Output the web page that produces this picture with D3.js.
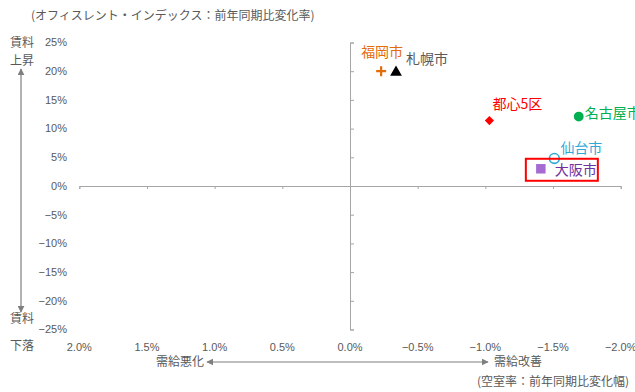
<!DOCTYPE html>
<html>
<head>
<meta charset="utf-8">
<script src="https://cdn.jsdelivr.net/npm/d3@7"></script>
<style>
  html, body { margin: 0; padding: 0; background: #fff; }
  svg { display: block; }
  text { font-family: "Noto Sans CJK JP", "Liberation Sans", sans-serif; }
  .num { font-family: "Liberation Sans", Arial, sans-serif; }
</style>
</head>
<body>
<svg id="chart" width="635" height="392"></svg>
<script>
// Cities plotted: vacancy-rate change (x, % points) vs. rent index change (y, %)
const cities   = ["福岡市", "札幌市", "都心5区", "名古屋市", "仙台市", "大阪市"];
const vacancy  = [-0.23, -0.34, -1.03, -1.69, -1.51, -1.41];
const rent     = [20.0, 19.8, 11.4, 12.1, 4.8, 3.0];
const shapes   = ["plus", "triangle", "diamond", "circle", "ring", "square"];
const markColors  = ["#E46C0A", "#000000", "#FF0000", "#00B050", "#2FA8D8", "#A66BD3"];
const labelColors = ["#E46C0A", "#595959", "#FF0000", "#00B050", "#2FA8D8", "#7030A0"];
const xTicks = [2.0, 1.5, 1.0, 0.5, 0.0, -0.5, -1.0, -1.5, -2.0];
const yTicks = [25, 20, 15, 10, 5, 0, -5, -10, -15, -20, -25];

const svg = d3.select("#chart");
const x = d3.scaleLinear().domain([2.0, -2.0]).range([79.3, 620.7]);
const y = d3.scaleLinear().domain([25, -25]).range([42.5, 329.5]);
const grey = "#A6A6A6", textGrey = "#595959";
const minus = s => s.replace("-", "\u2212");

// Axes crossing at the origin
const xAxis = d3.axisBottom(x).tickValues(xTicks).tickSize(3).tickFormat("");
svg.append("g").attr("transform", `translate(0,${y(0)})`).call(xAxis)
  .call(g => g.selectAll("path,line").attr("stroke", grey));
const yAxis = d3.axisRight(y).tickValues(yTicks).tickSize(4).tickSizeOuter(4).tickFormat("");
svg.append("g").attr("transform", `translate(${x(0)},0)`).call(yAxis)
  .call(g => g.selectAll("path,line").attr("stroke", grey));

// Tick labels: y on the left margin, x along the bottom
svg.append("g").selectAll("text").data(yTicks).join("text")
  .attr("class", "num").attr("x", 67).attr("y", d => y(d)).attr("dy", "0.35em")
  .attr("text-anchor", "end").attr("font-size", 11).attr("fill", textGrey)
  .text(d => minus(d + "%"));
svg.append("g").selectAll("text").data(xTicks).join("text")
  .attr("class", "num").attr("x", d => x(d)).attr("y", 347).attr("dy", "0.35em")
  .attr("text-anchor", "middle").attr("font-size", 11).attr("fill", textGrey)
  .text(d => minus(d3.format(".1f")(d) + "%"));

// Arrowheads
const defs = svg.append("defs");
defs.append("marker").attr("id", "arr").attr("viewBox", "0 0 10 10")
  .attr("refX", 9).attr("refY", 5).attr("markerWidth", 7).attr("markerHeight", 7)
  .attr("orient", "auto-start-reverse").attr("markerUnits", "userSpaceOnUse")
  .append("path").attr("d", "M0,0 L10,5 L0,10 Z").attr("fill", "#7F7F7F");

// Rent direction arrow (left)
svg.append("line").attr("x1", 21).attr("x2", 21).attr("y1", 69).attr("y2", 312)
  .attr("stroke", "#7F7F7F").attr("stroke-width", 1.2)
  .attr("marker-start", "url(#arr)").attr("marker-end", "url(#arr)");
const sideLabels = [["賃料", 43], ["上昇", 61], ["賃料", 319], ["下落", 346]];
svg.append("g").selectAll("text").data(sideLabels).join("text")
  .attr("x", 22).attr("y", d => d[1]).attr("dy", "0.35em").attr("text-anchor", "middle")
  .attr("font-size", 12).attr("fill", textGrey).text(d => d[0]);

// Supply-demand direction arrow (bottom)
svg.append("line").attr("x1", 207).attr("x2", 488).attr("y1", 362).attr("y2", 362)
  .attr("stroke", "#7F7F7F").attr("stroke-width", 1.2)
  .attr("marker-start", "url(#arr)").attr("marker-end", "url(#arr)");
svg.append("text").attr("x", 204).attr("y", 362).attr("dy", "0.35em").attr("text-anchor", "end")
  .attr("font-size", 12).attr("fill", textGrey).text("需給悪化");
svg.append("text").attr("x", 494).attr("y", 362).attr("dy", "0.35em")
  .attr("font-size", 12).attr("fill", textGrey).text("需給改善");

// Axis titles
svg.append("text").attr("x", 31).attr("y", 16).attr("dy", "0.35em")
  .attr("font-size", 12).attr("fill", textGrey).text("(オフィスレント・インデックス：前年同期比変化率)");
svg.append("text").attr("x", 629).attr("y", 382).attr("dy", "0.35em").attr("text-anchor", "end")
  .attr("font-size", 12).attr("fill", textGrey).text("(空室率：前年同期比変化幅)");

// Data markers
const symbolOf = {
  triangle: d3.symbolTriangle, diamond: d3.symbolSquare,
  circle: d3.symbolCircle, ring: d3.symbolCircle, square: d3.symbolSquare
};
const sizeOf = { triangle: 60, diamond: 42, circle: 75, ring: 75, square: 90 };
const pts = cities.map((c, i) => ({ name: c, xv: vacancy[i], yv: rent[i], shape: shapes[i], mc: markColors[i], lc: labelColors[i] }));

const marks = svg.append("g");
pts.forEach(p => {
  const cx = x(p.xv), cy = y(p.yv);
  if (p.shape === "plus") {
    marks.append("path").attr("d", `M${cx - 5},${cy}H${cx + 5}M${cx},${cy - 5}V${cy + 5}`)
      .attr("stroke", p.mc).attr("stroke-width", 2.2).attr("fill", "none");
  } else {
    const rot = p.shape === "diamond" ? " rotate(45)" : "";
    const path = marks.append("path").attr("transform", `translate(${cx},${cy})${rot}`)
      .attr("d", d3.symbol(symbolOf[p.shape], sizeOf[p.shape])());
    if (p.shape === "ring") path.attr("fill", "none").attr("stroke", p.mc).attr("stroke-width", 1.6);
    else path.attr("fill", p.mc);
  }
});

// Labels placed beside their markers
const labelOffset = { "福岡市": [-20, -19], "札幌市": [10, -13], "都心5区": [3, -16], "名古屋市": [6, -3], "仙台市": [6, -10], "大阪市": [14, 1] };
svg.append("g").selectAll("text").data(pts).join("text")
  .attr("x", d => x(d.xv) + labelOffset[d.name][0])
  .attr("y", d => y(d.yv) + labelOffset[d.name][1]).attr("dy", "0.35em")
  .attr("font-size", 14).attr("fill", d => d.lc).text(d => d.name);

// Highlight frame around 大阪市
const osaka = pts[cities.indexOf("大阪市")];
svg.append("rect").attr("x", x(osaka.xv) - 15).attr("y", y(osaka.yv) - 10)
  .attr("width", 72).attr("height", 22).attr("fill", "none")
  .attr("stroke", "#FF0000").attr("stroke-width", 2);
</script>
</body>
</html>
